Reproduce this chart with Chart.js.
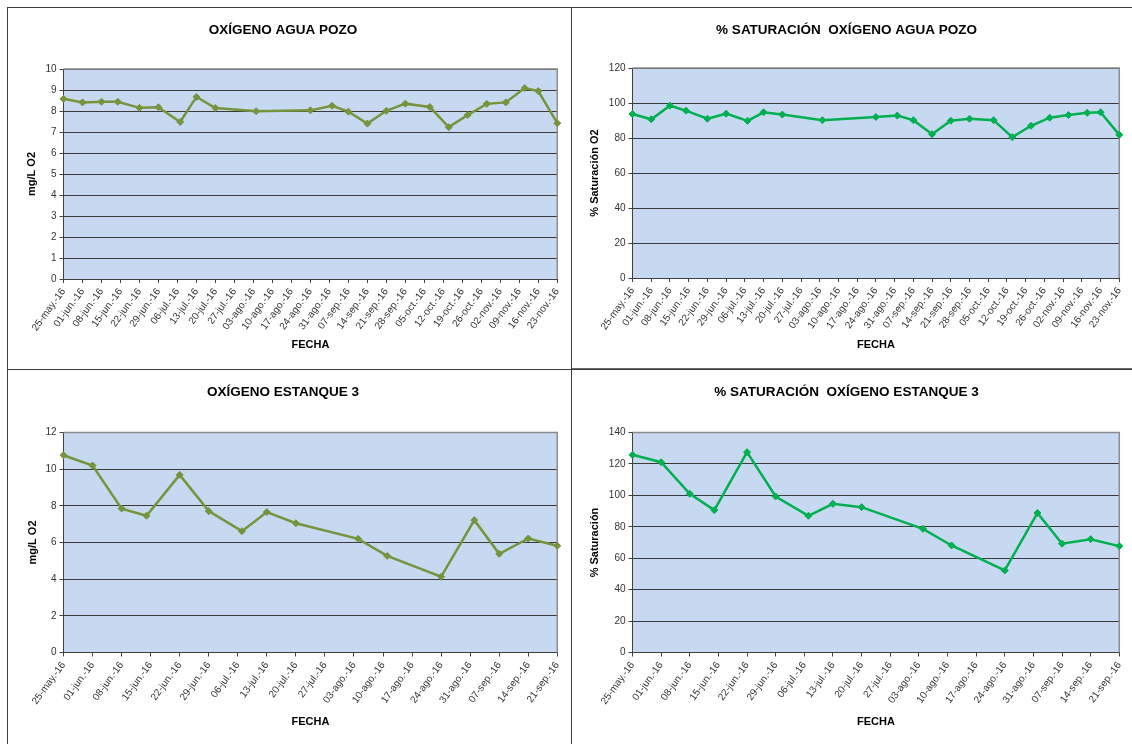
<!DOCTYPE html>
<html>
<head>
<meta charset="utf-8">
<script src="https://cdn.jsdelivr.net/npm/chart.js@4.4.1/dist/chart.umd.min.js"></script>
<style>
  html, body { margin: 0; padding: 0; background: #fff; width: 1132px; height: 744px; overflow: hidden; }
  .linea { position: absolute; background: #3c3c3c; }
  .caja { position: absolute; }
  .caja canvas { display: block; }
</style>
</head>
<body>
<div class="linea" style="left:7px;top:7px;width:1125px;height:1px"></div>
<div class="linea" style="left:7px;top:369px;width:1125px;height:1px"></div>
<div class="linea" style="left:572px;top:368px;width:560px;height:1px;background:#6a6a6a"></div>
<div class="linea" style="left:7px;top:7px;width:1px;height:737px"></div>
<div class="linea" style="left:571px;top:7px;width:1px;height:737px"></div>

<div class="caja" style="left:8px;top:8px"><canvas id="c1" width="562" height="360"></canvas></div>
<div class="caja" style="left:572px;top:8px"><canvas id="c2" width="560" height="360"></canvas></div>
<div class="caja" style="left:8px;top:370px"><canvas id="c3" width="562" height="374"></canvas></div>
<div class="caja" style="left:572px;top:370px"><canvas id="c4" width="560" height="374"></canvas></div>

<script>
// Weekly date labels (one tick every 7 days starting 25-may-2016)
const fechas = [
  '25-may.-16', '01-jun.-16', '08-jun.-16', '15-jun.-16', '22-jun.-16', '29-jun.-16',
  '06-jul.-16', '13-jul.-16', '20-jul.-16', '27-jul.-16', '03-ago.-16', '10-ago.-16',
  '17-ago.-16', '24-ago.-16', '31-ago.-16', '07-sep.-16', '14-sep.-16', '21-sep.-16',
  '28-sep.-16', '05-oct.-16', '12-oct.-16', '19-oct.-16', '26-oct.-16', '02-nov.-16',
  '09-nov.-16', '16-nov.-16', '23-nov.-16'
];

// Sampling days, counted from 25-may-2016
const diasPozo = [0, 7, 14, 20, 28, 35, 43, 49, 56, 71, 91, 99, 105, 112, 119, 126, 135, 142, 149, 156, 163, 170, 175, 182];
const diasEstanque = [0, 7, 14, 20, 28, 35, 43, 49, 56, 71, 78, 91, 99, 105, 112, 119];

// Well water: dissolved oxygen (mg/L) and saturation (%)
const oxigenoPozo = [8.58, 8.41, 8.44, 8.44, 8.15, 8.18, 7.48, 8.67, 8.14, 7.99, 8.03, 8.25,
                     7.97, 7.40, 8.01, 8.35, 8.19, 7.23, 7.81, 8.34, 8.41, 9.09, 8.95, 7.42];
const saturacionPozo = [93.7, 90.7, 98.5, 95.6, 91.0, 93.9, 89.8, 94.7, 93.4, 90.2, 92.0, 92.8,
                        90.2, 82.2, 89.9, 91.0, 90.2, 80.5, 87.0, 91.6, 93.1, 94.4, 94.7, 81.8];

// Pond 3: dissolved oxygen (mg/L) and saturation (%)
const oxigenoEstanque = [10.76, 10.20, 7.85, 7.46, 9.69, 7.71, 6.62, 7.66, 7.05, 6.20, 5.27, 4.13, 7.22, 5.38, 6.22, 5.82];
const saturacionEstanque = [125.8, 121.1, 101.0, 90.6, 127.5, 99.3, 87.0, 94.6, 92.5, 78.7, 68.1, 52.2, 88.8, 69.2, 72.1, 67.7];

const FUENTE = "'Liberation Sans', Arial, sans-serif";

// Light blue plot area with a grey frame on top and right
const fondoArea = {
  id: 'fondoArea',
  beforeDraw(chart) {
    const { ctx, chartArea: a } = chart;
    ctx.save();
    ctx.fillStyle = '#C6D9F1';
    ctx.fillRect(a.left, a.top, a.right - a.left, a.bottom - a.top);
    ctx.restore();
  },
  beforeDatasetsDraw(chart) {
    const { ctx, chartArea: a } = chart;
    ctx.save();
    ctx.strokeStyle = '#8c8c8c';
    ctx.lineWidth = 1.5;
    ctx.beginPath();
    ctx.moveTo(a.left, a.top);
    ctx.lineTo(a.right, a.top);
    ctx.lineTo(a.right, a.bottom);
    ctx.stroke();
    ctx.restore();
  }
};

function grafico(id, o) {
  const canvas = document.getElementById(id);
  const W = canvas.width, H = canvas.height;
  const puntos = o.dias.map((d, i) => ({ x: d, y: o.valores[i] }));
  return new Chart(canvas, {
    type: 'line',
    data: {
      datasets: [{
        data: puntos,
        borderColor: o.color,
        backgroundColor: o.color,
        borderWidth: 2.5,
        pointStyle: 'rectRot',
        pointRadius: 3.5,
        pointBorderWidth: 1,
        tension: 0,
        clip: 5
      }]
    },
    options: {
      responsive: false,
      animation: false,
      layout: { padding: { left: 0, right: W - o.area.right, top: 0, bottom: 0 } },
      plugins: {
        legend: { display: false },
        tooltip: { enabled: false },
        title: {
          display: true,
          text: o.titulo,
          color: '#000',
          font: { family: FUENTE, size: 13.5, weight: 'bold', lineHeight: 1.2 },
          padding: { top: 14, bottom: o.area.top - 14 - 16.2 }
        }
      },
      scales: {
        x: {
          type: 'linear',
          min: 0,
          max: o.maxDia,
          afterFit: (s) => { s.height = H - o.area.bottom; },
          ticks: {
            stepSize: 7,
            autoSkip: false,
            minRotation: 54,
            maxRotation: 54,
            padding: 3,
            color: '#333',
            font: { family: FUENTE, size: 10 },
            callback: (v) => fechas[Math.round(v / 7)]
          },
          grid: { drawOnChartArea: false, drawTicks: true, tickLength: 4, tickColor: '#404040', color: '#404040' },
          border: { color: '#404040', width: 1 },
          title: {
            display: true,
            text: 'FECHA',
            color: '#000',
            font: { family: FUENTE, size: 11, weight: 'bold', lineHeight: 1.2 },
            padding: { top: 0, bottom: o.fechaPad }
          }
        },
        y: {
          min: 0,
          max: o.maxY,
          afterFit: (s) => { s.width = o.area.left; },
          ticks: {
            stepSize: o.paso,
            padding: 3,
            color: '#333',
            font: { family: FUENTE, size: 10 }
          },
          grid: { color: '#3a3a3a', lineWidth: 1, tickLength: 4, tickColor: '#404040' },
          border: { color: '#404040', width: 1 },
          title: {
            display: true,
            text: o.tituloY,
            color: '#000',
            font: { family: FUENTE, size: 11, weight: 'bold', lineHeight: 1.2 },
            padding: { top: o.tituloYPad, bottom: 0 }
          }
        }
      }
    },
    plugins: [fondoArea]
  });
}

grafico('c1', {
  titulo: 'OXÍGENO AGUA POZO', tituloY: 'mg/L O2',
  dias: diasPozo, valores: oxigenoPozo, color: '#77933C',
  maxDia: 182, maxY: 10, paso: 1,
  area: { left: 55.5, right: 550, top: 61, bottom: 271 },
  tituloYPad: 17, fechaPad: 16
});

grafico('c2', {
  titulo: '% SATURACIÓN  OXÍGENO AGUA POZO', tituloY: '% Saturación O2',
  dias: diasPozo, valores: saturacionPozo, color: '#00B050',
  maxDia: 182, maxY: 120, paso: 20,
  area: { left: 60.5, right: 549, top: 60, bottom: 270 },
  tituloYPad: 16, fechaPad: 16
});

grafico('c3', {
  titulo: 'OXÍGENO ESTANQUE 3', tituloY: 'mg/L O2',
  dias: diasEstanque, valores: oxigenoEstanque, color: '#77933C',
  maxDia: 119, maxY: 12, paso: 2,
  area: { left: 55.5, right: 550, top: 62.5, bottom: 282.5 },
  tituloYPad: 18, fechaPad: 15
});

grafico('c4', {
  titulo: '% SATURACIÓN  OXÍGENO ESTANQUE 3', tituloY: '% Saturación',
  dias: diasEstanque, valores: saturacionEstanque, color: '#00B050',
  maxDia: 119, maxY: 140, paso: 20,
  area: { left: 60.5, right: 549, top: 62.5, bottom: 282.5 },
  tituloYPad: 16, fechaPad: 15
});
</script>
</body>
</html>
